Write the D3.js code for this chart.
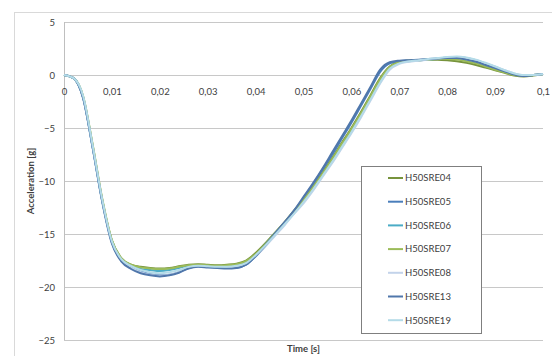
<!DOCTYPE html>
<html>
<head>
<meta charset="utf-8">
<script src="https://cdn.jsdelivr.net/npm/d3@7"></script>
<style>
  body { margin: 0; background: #fff; }
  svg text { font-family: Lato, "Open Sans", sans-serif; fill: #404040; }
</style>
</head>
<body>
<div id="chart"></div>
<script>
// time samples (s)
var time = [0, 0.002, 0.004, 0.006, 0.008, 0.010, 0.012, 0.014, 0.016, 0.018,
  0.020, 0.022, 0.024, 0.026, 0.028, 0.030, 0.032, 0.034, 0.036, 0.038,
  0.040, 0.042, 0.044, 0.046, 0.048, 0.050, 0.052, 0.054, 0.056, 0.058,
  0.060, 0.062, 0.064, 0.066, 0.068, 0.070, 0.072, 0.074, 0.076, 0.078,
  0.080, 0.082, 0.084, 0.086, 0.088, 0.090, 0.092, 0.094, 0.096, 0.098, 0.100];

var seriesNames = ["H50SRE04", "H50SRE05", "H50SRE06", "H50SRE07", "H50SRE08", "H50SRE13", "H50SRE19"];
var seriesColors = ["#77933c", "#4a7ebb", "#4bacc6", "#9bbb59", "#c3d3ea", "#5077ab", "#b4dbe8"];

// acceleration (g)
var h50sre04 = [0, -0.3, -2.1, -6.7, -11.8, -15.6, -17.3, -17.9, -18.1, -18.2, -18.25, -18.2, -18.05, -17.9, -17.85, -17.9, -17.95, -17.9, -17.8, -17.5, -16.8, -15.9, -14.9, -13.9, -12.8, -11.7, -10.5, -9.2, -7.8, -6.4, -5.0, -3.5, -1.9, -0.3, 0.8, 1.25, 1.35, 1.4, 1.45, 1.45, 1.4, 1.3, 1.15, 0.95, 0.7, 0.45, 0.2, -0.05, -0.15, -0.05, 0.1];
var h50sre05 = [0, -0.3, -2.2, -6.9, -11.9, -15.8, -17.5, -18.1, -18.5, -18.8, -18.9, -18.85, -18.6, -18.2, -18.05, -18.1, -18.15, -18.2, -18.2, -17.9, -17.1, -16.1, -15.0, -14.0, -12.9, -11.6, -10.3, -8.9, -7.5, -6.0, -4.5, -2.9, -1.3, 0.3, 1.1, 1.3, 1.35, 1.4, 1.45, 1.5, 1.55, 1.6, 1.5, 1.3, 1.0, 0.7, 0.4, 0.1, -0.05, 0.0, 0.1];
var h50sre06 = [0, -0.3, -2.1, -6.8, -11.9, -15.7, -17.4, -18.0, -18.3, -18.4, -18.5, -18.4, -18.2, -18.0, -17.95, -18.0, -18.05, -18.05, -17.95, -17.7, -17.0, -16.0, -15.0, -14.0, -13.0, -11.9, -10.7, -9.4, -8.0, -6.6, -5.2, -3.7, -2.1, -0.5, 0.7, 1.15, 1.3, 1.4, 1.45, 1.55, 1.65, 1.7, 1.6, 1.4, 1.1, 0.75, 0.4, 0.1, -0.05, 0.0, 0.1];
var h50sre07 = [0, -0.3, -2.0, -6.6, -11.7, -15.6, -17.3, -17.9, -18.15, -18.25, -18.3, -18.25, -18.1, -17.95, -17.9, -17.95, -18.0, -17.95, -17.85, -17.55, -16.9, -16.0, -15.0, -14.0, -12.9, -11.8, -10.6, -9.3, -7.9, -6.5, -5.1, -3.6, -2.0, -0.4, 0.75, 1.2, 1.35, 1.4, 1.45, 1.5, 1.5, 1.45, 1.3, 1.1, 0.8, 0.5, 0.25, 0.0, -0.1, 0.0, 0.1];
var h50sre08 = [0, -0.3, -2.1, -6.8, -11.9, -15.8, -17.5, -18.2, -18.6, -18.85, -18.95, -18.85, -18.6, -18.2, -18.05, -18.1, -18.2, -18.2, -18.1, -17.8, -17.1, -16.2, -15.2, -14.2, -13.1, -12.1, -10.9, -9.6, -8.3, -6.9, -5.5, -4.0, -2.4, -0.8, 0.5, 1.05, 1.25, 1.35, 1.45, 1.55, 1.65, 1.7, 1.6, 1.4, 1.1, 0.8, 0.45, 0.15, 0.0, 0.0, 0.1];
var h50sre13 = [0, -0.3, -2.2, -6.9, -12.0, -15.9, -17.6, -18.3, -18.7, -18.9, -19.0, -18.9, -18.65, -18.25, -18.1, -18.15, -18.2, -18.25, -18.2, -17.9, -17.1, -16.1, -15.0, -13.9, -12.8, -11.5, -10.2, -8.8, -7.3, -5.8, -4.3, -2.7, -1.1, 0.5, 1.2, 1.35, 1.4, 1.45, 1.5, 1.55, 1.6, 1.6, 1.45, 1.25, 0.95, 0.65, 0.35, 0.05, -0.1, 0.0, 0.1];
var h50sre19 = [0, -0.3, -2.0, -6.7, -11.8, -15.7, -17.4, -18.0, -18.4, -18.6, -18.7, -18.6, -18.4, -18.1, -18.0, -18.05, -18.1, -18.1, -18.0, -17.75, -17.0, -16.1, -15.1, -14.1, -13.1, -12.0, -10.8, -9.5, -8.2, -6.8, -5.4, -3.9, -2.3, -0.7, 0.6, 1.1, 1.3, 1.4, 1.5, 1.6, 1.7, 1.75, 1.65, 1.45, 1.15, 0.8, 0.45, 0.15, 0.0, 0.0, 0.1];

var xTicks = [0, 0.01, 0.02, 0.03, 0.04, 0.05, 0.06, 0.07, 0.08, 0.09, 0.1];
var yTicks = [5, 0, -5, -10, -15, -20, -25];

var allValues = [h50sre04, h50sre05, h50sre06, h50sre07, h50sre08, h50sre13, h50sre19];

var width = 552, height = 356;
var margin = { top: 22, right: 9, bottom: 16, left: 64 };
var innerW = width - margin.left - margin.right;
var innerH = height - margin.top - margin.bottom;

var svg = d3.select("#chart").append("svg")
  .attr("width", width)
  .attr("height", height);

// chart area border
svg.append("rect")
  .attr("x", 14.5).attr("y", 12.5)
  .attr("width", 560).attr("height", 360)
  .attr("fill", "none")
  .attr("stroke", "#d9d9d9");

var g = svg.append("g")
  .attr("transform", "translate(" + margin.left + "," + margin.top + ")");

var x = d3.scaleLinear().domain([0, 0.1]).range([0, innerW]);
var y = d3.scaleLinear().domain([-25, 5]).range([innerH, 0]);

var fmt = function(d) { return String(+d.toFixed(2)).replace(".", ","); };

// horizontal gridlines + y labels
var yAxis = g.append("g")
  .call(d3.axisLeft(y).tickValues(yTicks).tickSize(-innerW).tickPadding(9).tickFormat(d3.format("d")));
yAxis.select(".domain").remove();
yAxis.selectAll(".tick line").attr("stroke", "#c8c8c8").attr("shape-rendering", "crispEdges");
yAxis.selectAll(".tick text").style("font-size", "9.5px").attr("fill", "#404040");

// vertical axis line
g.append("line")
  .attr("x1", 0.5).attr("x2", 0.5)
  .attr("y1", 0).attr("y2", innerH)
  .attr("stroke", "#bfbfbf");

// x axis crossing at 0
var xAxis = g.append("g")
  .attr("transform", "translate(0," + y(0) + ")")
  .call(d3.axisBottom(x).tickValues(xTicks).tickSize(0).tickPadding(13).tickFormat(fmt));
xAxis.select(".domain").remove();
xAxis.selectAll(".tick text").style("font-size", "9.5px").attr("fill", "#404040");

// lines
var line = d3.line()
  .x(function(d, i) { return x(time[i]); })
  .y(function(d) { return y(d); })
  .curve(d3.curveMonotoneX);

g.selectAll(".series")
  .data(allValues)
  .enter().append("path")
  .attr("class", "series")
  .attr("fill", "none")
  .attr("stroke", function(d, i) { return seriesColors[i]; })
  .attr("stroke-width", 2)
  .attr("d", line);

// axis titles
svg.append("text")
  .attr("transform", "translate(34," + (margin.top + innerH / 2) + ") rotate(-90)")
  .attr("text-anchor", "middle")
  .style("font-size", "9.5px")
  .style("font-weight", "bold")
  .text("Acceleration [g]");

svg.append("text")
  .attr("x", margin.left + innerW / 2)
  .attr("y", 352)
  .attr("text-anchor", "middle")
  .style("font-size", "9.5px")
  .style("font-weight", "bold")
  .text("Time [s]");

// legend
var legend = svg.append("g").attr("transform", "translate(361,166)");
legend.append("rect")
  .attr("x", 0.5).attr("y", 0.5)
  .attr("width", 120).attr("height", 167)
  .attr("fill", "#fff")
  .attr("stroke", "#7f7f7f");

var item = legend.selectAll(".item")
  .data(seriesNames)
  .enter().append("g")
  .attr("class", "item")
  .attr("transform", function(d, i) { return "translate(0," + (12 + i * 23.7) + ")"; });
item.append("line")
  .attr("x1", 27).attr("x2", 42)
  .attr("stroke", function(d, i) { return seriesColors[i]; })
  .attr("stroke-width", 2);
item.append("text")
  .attr("x", 44)
  .attr("dy", "0.35em")
  .style("font-size", "9.5px")
  .text(function(d) { return d; });
</script>
</body>
</html>
